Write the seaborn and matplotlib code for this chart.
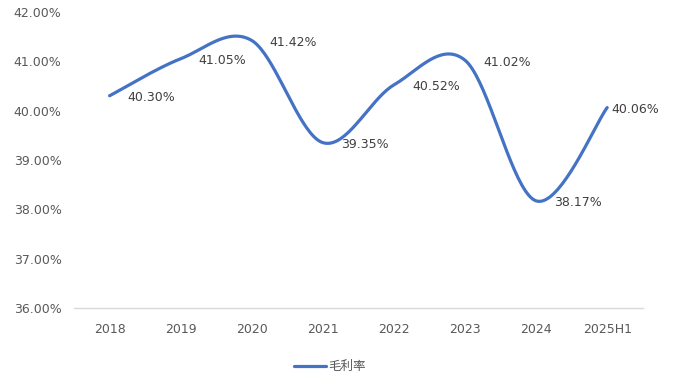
import numpy as np
import pandas as pd
import matplotlib
matplotlib.use("Agg")
import matplotlib.pyplot as plt
import seaborn as sns

categories = ["2018", "2019", "2020", "2021", "2022", "2023", "2024", "2025H1"]
gross_margin = [40.30, 41.05, 41.42, 39.35, 40.52, 41.02, 38.17, 40.06]
y_ticks = [36, 37, 38, 39, 40, 41, 42]
series_name = "毛利率"

sns.set_theme(style="white")
plt.rcParams["font.family"] = ["DejaVu Sans", "Noto Sans CJK SC"]

# Excel-style smooth line (Catmull-Rom / Bezier through the points)
n = len(gross_margin)
px = np.arange(n, dtype=float)
py = np.array(gross_margin, dtype=float)
xs, ys = [], []
t = np.linspace(0, 1, 40)
for i in range(n - 1):
    i0, i3 = max(i - 1, 0), min(i + 2, n - 1)
    b0x, b0y = px[i], py[i]
    b3x, b3y = px[i + 1], py[i + 1]
    b1x = px[i] + (px[i + 1] - px[i0]) / 6
    b1y = py[i] + (py[i + 1] - py[i0]) / 6
    b2x = px[i + 1] - (px[i3] - px[i]) / 6
    b2y = py[i + 1] - (py[i3] - py[i]) / 6
    bx = (1 - t) ** 3 * b0x + 3 * (1 - t) ** 2 * t * b1x + 3 * (1 - t) * t ** 2 * b2x + t ** 3 * b3x
    by = (1 - t) ** 3 * b0y + 3 * (1 - t) ** 2 * t * b1y + 3 * (1 - t) * t ** 2 * b2y + t ** 3 * b3y
    xs.extend(bx if i == 0 else bx[1:])
    ys.extend(by if i == 0 else by[1:])
df = pd.DataFrame({"x": xs, "y": ys})

fig = plt.figure(figsize=(6.73, 3.83), dpi=100)
ax = fig.add_axes([0.110, 0.196, 0.845, 0.773])

sns.lineplot(data=df, x="x", y="y", sort=False, estimator=None, ax=ax,
             color="#4472C4", linewidth=2.3, label=series_name)

ax.set_xlim(-0.5, n - 0.5)
ax.set_ylim(y_ticks[0], y_ticks[-1])
ax.set_xticks(range(n))
ax.set_xticklabels(categories)
ax.set_yticks(y_ticks)
ax.set_yticklabels([f"{v:.2f}%" for v in y_ticks])
ax.set_xlabel("")
ax.set_ylabel("")
for s in ["top", "right", "left"]:
    ax.spines[s].set_visible(False)
ax.spines["bottom"].set_color("#d9d9d9")
ax.spines["bottom"].set_linewidth(1.0)
ax.tick_params(axis="both", length=0, labelsize=9, labelcolor="#595959")
ax.tick_params(axis="y", pad=9)
ax.tick_params(axis="x", pad=11)
ax.grid(False)

for i, v in enumerate(gross_margin):
    dx = 18 if i < n - 1 else 4
    ax.annotate(f"{v:.2f}%", (i, v), xytext=(dx, -2), textcoords="offset pixels",
                ha="left", va="center", fontsize=9, color="#404040")

ax.get_legend().remove()
h, l = ax.get_legend_handles_labels()
fig.legend(h, l, loc="center", bbox_to_anchor=(0.49, 0.042), frameon=False,
           fontsize=9, labelcolor="#595959", handlelength=2.6, handletextpad=0.2)

fig.savefig("out.png", dpi=100)
